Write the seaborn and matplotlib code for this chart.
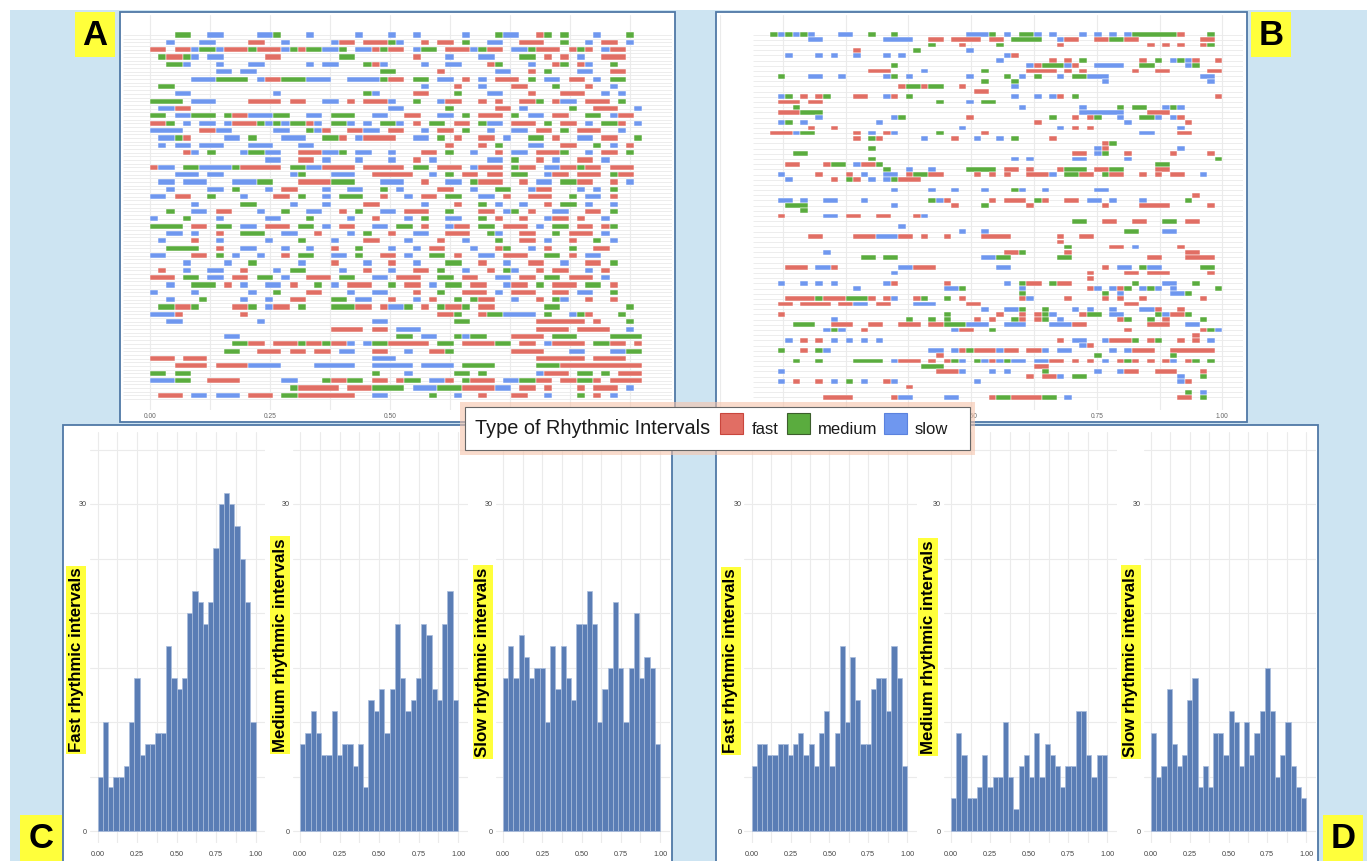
import numpy as np
import pandas as pd
import matplotlib
matplotlib.use("Agg")
import matplotlib.pyplot as plt
import seaborn as sns
from matplotlib.patches import Rectangle

# histogram counts, 30 bins over 0..1
fast_c = [5, 10, 4, 5, 5, 6, 10, 14, 7, 8, 8, 9, 9, 17, 14, 13, 14, 20, 22, 21, 19, 21, 26, 30, 31, 30, 28, 25, 21, 10]
medium_c = [8, 9, 11, 9, 7, 7, 11, 7, 8, 8, 6, 8, 4, 12, 11, 13, 9, 13, 19, 14, 11, 12, 14, 19, 18, 13, 12, 19, 22, 12]
slow_c = [14, 17, 14, 18, 16, 14, 15, 15, 10, 17, 13, 17, 14, 12, 19, 19, 22, 19, 10, 13, 15, 21, 15, 10, 15, 20, 14, 16, 15, 8]
fast_d = [6, 8, 8, 7, 7, 8, 8, 7, 8, 9, 7, 8, 6, 9, 11, 6, 9, 17, 10, 16, 12, 8, 8, 13, 14, 14, 11, 17, 14, 6]
medium_d = [3, 9, 7, 3, 3, 4, 7, 4, 5, 5, 10, 5, 2, 6, 7, 5, 9, 5, 8, 7, 6, 4, 6, 6, 11, 11, 7, 5, 7, 7]
slow_d = [9, 5, 6, 13, 8, 6, 7, 12, 14, 4, 6, 4, 9, 9, 7, 11, 10, 6, 10, 7, 9, 11, 15, 11, 5, 7, 10, 6, 4, 3]

hist_labels = ["Fast rhythmic intervals", "Medium rhythmic intervals", "Slow rhythmic intervals"]

# raster rows, one char per time cell: f = fast, m = medium, s = slow, . = none
raster_a = [
    "...mm..ss. ...ssm...s .....s...s ..s.....s. ..mss..fm. m...s...m.",
    "..s...ss.. ..ff..s... ..sff.fffm s..f.ff.m. .ss..fff.. m..s.ff.s.",
    "ff.ffsmmsf ffmfffsmfm mssm.ssfmf f.smm.fffs mff.ssmfff .fmf.sff..",
    ".mffms.ss. ....ff.... ...mm..... ..f...s... ss...mm.f. f.s..fff..",
    "..mms...s. ..ss.....s .ss...mfs. ...s..ss.. .fm...s..f m.fs..m...",
    "........ss .ss....... ........mm .....f.... ..ss..f.m. ..ss..ff..",
    ".....sssmm mm.sffmmms ss..ssssmf f.mm.ss.f. s.fff.m.ss .ff.s.mm..",
    ".mm....... .......... .......... ...s...f.. s...ff...m ...f..s...",
    "...ss..... .....s.... ......ms.. ..ff...m.. .ss...f... fff..s.s..",
    "mmmm.sss.. ..ffff.ff. .ss.f.fffs ..m..sff.. f.f..ffm.f ss.fff.m..",
    ".ssff..... .......... .........s s.....m... ..ff.s.... .m..fff..s",
    "mm.ssmmm.m ffsssmm..s s.mmm..ss. .ff..ss.m. fff.m.ss.f f..mm.sff.",
    "ffm.s.ss.s fffmsmsmmf s.mms.s.mm s.f.mm.ff. mss.fff.m. ff.s.mmf.s",
    "ssss..ffss .....ss..m sf..ffss.f f..s.ff.m. .s..ss.ff. m.fff..s..",
    ".ssmf....s s.m...sss. .mmf.sffff ..ss.m.f.. ff.s..mm.f ..ss.ff..m",
    ".s.ss.sss. ..sss...ss .......... ......f... f.m...ss.. ff..m.s.f.",
    "....fs.m.. .smmss..ff fssm.ss..s ...ff.m..s ..f.ss.fff m..s.ff.m.",
    ".......... ....ss..ff .s...s...s ..f.s..... .ss.m..f.s ..ff.s....",
    "fss.mmssss mfffff.mms sffff.ffff f.mm.fff.s fff.mff.ss ffmff.fff.",
    "...sss.ss. .......sm. ..sss..fff ff..s.m.ff .ff.mm..sf f.fff.mff.",
    ".ss.sss... sssmm...ff ffmmm...ss s..f..ss.m fff..f.ss. mmff..f.s.",
    "..s....ss.m...s.ff...s..ss..m.s....ff..s..mm..sff...s.s.m...",
    "ss.ff..m...s...ff.m..s.mmm..f..s.ff.mm..ss.f..fff..m.ss.f..",
    ".....s.....mm....s...s....ff.....s...f..m.s..s..f.mm.s..s..",
    "..m..ss.ff...s..m..ss..f.m..ss.fff..m...ff.sm.f..ss..ff.m..",
    "s...m...s.....ss...m....s..f...s.m..ss..m.f..f..sff.f..s...",
    "mmmm.ff.mm.ss.fff.mm.s.ff..ss.mm.f..sff.mm.fff.s.mm.ff.fm..",
    "..ss.s..f..mmm..ss..f...s.m..f..ss..fff..ms..ff..m.fff.s...",
    ".s...f..s.....s...m...s...ff...s...f..s...m..ff.s..f..m.s..",
    "..mmmm..f..ss...s..s..f..m...s..s.ff...s..fm..s.f..m..ff...",
    "ss...ff.m.s..s..f.mm..ss.m..ff.s..mm.f..ss.fff..mm.f.ss....",
    "....s....s..m.....s...f...s..f..s...mm..f..s..ff..s..ff.m..",
    ".f..s..ss..f...s.mm....s..f..s..ff.m..s..f.ms..f.ff..s.f...",
    "fff.mm.ss.ff.mm.s..fff.mm..ss.fff..mm.ff..ss.ff.mm.fff.s....",
    "..s..mmm.f.s..ss.f..m.s.fff..m.ff.s.mm.ff..sff.m.fff.mm.f...",
    "s....s......s..m...ff...s..ss...f..m..fff.s.fff..ff.ss..m...",
    "..s...m....s..s..ff...mm.ss..f..s.f..m.mff..s..f.ms..f..f...",
    ".mmffm.... ffm.sff.m. ..mmmff.fs sm.f.mffm. ff......mm ........m.",
    "sssf...... .f........ .......... .....ffm.. fmmssss.m. .smf...m..",
    "..ss...... ...s...... .......ss. .......mm. .......fff fff.f...m.",
    ".......... .......... ..ffff.ff. sss....... .......fff f.ffff..s.",
    ".........s s......... .......... mm.ss..msm m...ffff.m mm....mmmm",
    ".......... mmff.fffmf fmffs.smmf ffff.mm.ff ffmm.ff.sf fff.mmff.f",
    ".........m m..fff.ff. ff.ss..ff. .s..ffm... ....ffff.. .ss...ssmm",
    "fff.fff... .......... .......sss .......... .......fff fff.ffff..",
    "...ffff.ff ffssss.... sssss..sss ss.ssss.mm mm.....mmm ffffffffff",
    "mm.mm..... .......... .......m.. .s.....mm. m......sff f.mm.m.fff",
    "sssmm..fff f.....ss.. .mffmm.ff. fmm.ssf.mf ff.ssmmff. ffmmf.ffff",
    ".......... .......mff fff.fffmmm m.sssmmmff ffss.ff.f. ..f.fff.s.",
    ".fff.ss.sss.fff.mmfffffff..ss.....m..s..f...ff..s...m.f.s..",
]

raster_b = [
    "msmsms...s s..m..m... ......sssm .s.mms.s.. .s.s.s.smm mmmmf...m.",
    ".....ss... .....ssss. .ff.ffff.f f.mmmm..sf f..ffmmff. .......ff.",
    ".......... .......... .m...f.... m.......f. .......... f.f.f..fm.",
    ".......... .f.......m ......s...",
    "..s...s.s. .s...s.s.. .......... .sf.......",
    ".......... .......... .......... s......f.f .m.......f .m.smsf..f",
    ".......... ......m... .......... ....sfmmms f..ssss..m m....sm...",
    ".......... ...fff.... s.......m. ....ffff.f .f......f. .ff.....ff",
    ".m...ss..s .....sm.s. ......s... .m.s.m..s. mmsss..... .......ss.",
    ".......... .......... ........m. ..m....... ....s..... ........s.",
    ".......... .......fmm fmm..f.... ..s.......",
    ".......... .......... .......ff.",
    ".sm.f.fm.. .ff..sf.m. .......... ..s..s.sf. m......... .........f",
    ".fff.ff... .......... ..m...s.mm",
    "...m...... .......... .......... ...s...... .s....m.mm ..sms.....",
    ".fffmmm... .......... .......... .......... .ssssss... fff.......",
    "......s... ......sm.. ......f... .......m.. f.fm..s..m ms.sf.....",
    ".sm.s..... ....s..... .......... .....f.... .......s.. .....f....",
    ".....f..f. .......... .....s.... ........s. f.f....... ....s.....",
    "fffsmm.... .f.s.fs... ..m.....f. .......... .........s s...ff....",
    ".......... .f.mf..... s...f..s.. s.m....f..",
    ".......... .......... .......... .......... ....fm....",
    ".......... ...m...... .......... .......... ...sf..... ....s.....",
    "...mm..... .......... .......... .......... ff.sm..f.. ...f....f.",
    ".......... ...m...... .......... ..s.s..... ss.....s.. .........m",
    "..ff...fmm .sffm..... .......... .......... .......... .mm.......",
    ".......... .....m..s. .s....mmmm .ff.f...fm mm.ffmm... .ff.......",
    ".s....f... f.s..ss.fm mff....f.f .f..fffs.m mff.mff..f .f.ff..s..",
    "..s.....f. mf.s.smfff",
    "",
    ".......... ......s... .s..s...s. ..ms..s... ...ss..... ..........",
    ".......... .......... .......... .......... .......... ......f...",
    ".ss.s..ss. ..s....... .msf.....f .fff.mf..f f.ss.s...s .....m....",
    "..mmm..... ......s... ....f...m. ....f..... ....f....f fff.....f.",
    "....m.....",
    ".f.....ss. ff..ff...f s.........",
    ".......... .......... .......... .......... mm..ff..ff ..mm.ff...",
    ".......... .......s..",
    ".......... .......... .....s..s. .......... .......mm. ..ss......",
    ".....ff... .fffsssff. f..f....ff ff......f. .ff....... ..........",
    ".......... .......... .......... ........f.",
    ".......... .......... .......... .........m .....ff.s. ....f.....",
    ".......s.. .......... .......... .ffm.....f .......... .....ff...",
    ".......... ..mm.mm... ........ss mm......mm .......... ff...ffff.",
    "",
    "..fff.ssf. .......ssf ff........ ss........ ....f.ss.m ss.....mm.",
    ".......... ......s... .......... .......... ..f....ff. fff.....f.",
    ".......... .......... .......... .......... ..f.......",
    ".s..s.s.s. .....sf... ...f...... .s.mff.mff ........m. ..ss..m...",
    ".......... .s........ ...ssm.... ...s...... ..fs.sfm.s ms.s.....m",
    ".......... .......... .......... ...m...... ....m.s... ...ssm....",
    "..ffffmfff mmmf.fs..f m..m.f.... ...fs....f ....f.f..f .......f..",
    ".ff.ffff.f fss.ff...s ss....ff.. .......... .......ff. ..........",
    ".......... .......... ........s. .ssm..m... s.s..s...s sf..f.....",
    ".f........ .......... ...m...... f..f.fms.. .fmm.ss... .msffm....",
    "........s. ........m. .m.m...f.f ..mf.fm.s. ......fm.. m.f....m..",
    "...mmm..ff f..ff..fff .ffmmmsss. .sss...sss ff........ fff..ss...",
    ".......sms ..f....... ....sff..m .......... .......f.. .......fms",
    ".......... .......... .......... .......... .......... ......f...",
    "..s.f.f.s. s.s.s..... .......... ........f. ss..sfffm. fm..f.f.s.",
    ".......... .......... .......... .......... .sf.......",
    ".m..f.ms.. .......... .ss.sfmfff sff.ffs.ss .....s.sff f..ffffff.",
    ".......... .......... ..f....... .......... ...m...... ...m......",
    "...m..m... .mmmm.sfff .f.fms.msf smss.ssff. f.f.s.fmf. f.fs.fm.m.",
    ".......... .......... mmm....... .....ff...",
    ".s........ .......... ..fffs...s .s....m... ...s..sff. .fff...f..",
    ".......... .......... .......... ....f.ffs. mm........ ....s..m..",
    ".s.f..f.s. m.s..fs... .......s.. .......... .......... ....sf....",
    ".......... ........f.",
    ".......... .......... .......... .......... .......... .....m.s..",
    ".......fff f.....fss. ...ss....f mmffffmm.s .......... ....ff.m..",
]

kind_names = {"f": "fast", "m": "medium", "s": "slow"}
kind_colors = {"fast": "#e16e64", "medium": "#5aac3e", "slow": "#6f97ef"}
NCOL = 60


def raster_frame(rows):
    recs = []
    for r, row in enumerate(rows):
        row = row.replace(" ", "").ljust(NCOL, ".")[:NCOL]
        i = 0
        while i < NCOL:
            ch = row[i]
            if ch == ".":
                i += 1
                continue
            j = i
            while j < NCOL and row[j] == ch:
                j += 1
            recs.append({"row": r, "start": i, "length": j - i, "kind": kind_names[ch]})
            i = j
    return pd.DataFrame(recs)


sns.set_theme(style="whitegrid")
plt.rcParams["font.family"] = ["Liberation Sans", "DejaVu Sans"]

W, H = 1367, 861
fig = plt.figure(figsize=(W / 100, H / 100), dpi=100)
fig.patch.set_facecolor("white")


def rect(x0, y0, x1, y1):
    return [x0 / W, 1 - y1 / H, (x1 - x0) / W, (y1 - y0) / H]


def fig_rect(x0, y0, x1, y1, **kw):
    fig.add_artist(Rectangle((x0 / W, 1 - y1 / H), (x1 - x0) / W, (y1 - y0) / H,
                             transform=fig.transFigure, **kw))


# background and panel frames
fig_rect(10, 10, 1367, 861, fc="#cde4f2", ec="none", zorder=-10)
frame = dict(fc="white", ec="#4f78a6", lw=1.3, zorder=-5)
fig_rect(120, 12, 675, 422, **frame)
fig_rect(716, 12, 1247, 422, **frame)
fig_rect(63, 425, 672, 870, **frame)
fig_rect(716, 425, 1318, 870, **frame)


def raster_panel(pos, rows, x0, cw, xlim, ylim, bar_h, half_lines, shown_ticks):
    ax = fig.add_axes(rect(*pos))
    ax.set_facecolor("none")
    df = raster_frame(rows)
    n = len(rows)
    lines = np.arange(n) if not half_lines else np.arange(0, n, 0.5)
    ax.hlines(lines, xlim[0], xlim[1], color="#e6e6e6", lw=0.5, zorder=0)
    ax.barh(df["row"], df["length"] * cw, left=x0 + df["start"] * cw, height=bar_h,
            color=df["kind"].map(kind_colors), edgecolor="white", linewidth=0.35, zorder=2)
    ax.set_xlim(*xlim)
    ax.set_ylim(*ylim)
    ax.set_xticks(np.arange(0, 1.01, 0.25), minor=False)
    ax.set_xticklabels([f"{t:.2f}" if t in shown_ticks else "" for t in np.arange(0, 1.01, 0.25)])
    ax.set_xticks(np.arange(0.125, 1.0, 0.25), minor=True)
    ax.set_yticks([])
    ax.grid(axis="x", which="both", color="#ebebeb", lw=0.8, zorder=0)
    ax.grid(axis="y", visible=False)
    ax.tick_params(axis="x", which="both", length=0, labelsize=4.8, labelcolor="#666666", pad=2)
    for s in ax.spines.values():
        s.set_visible(False)
    return ax


# panel A: 0 at x=150, 480 px per unit
raster_panel((123, 15, 672, 410), raster_a, 0.0, 0.0171,
             ((123 - 150) / 480, (672 - 150) / 480), (51.0, -2.72), 0.7, True, (0.0, 0.25, 0.5))
# panel B: 0 at x=685, 536 px per unit
raster_panel((720, 15, 1243, 410), raster_b, 0.1, 0.015,
             ((720 - 685) / 536, (1243 - 685) / 536), (72.45, -3.8), 0.92, False, (0.5, 0.75, 1.0))

# histograms
centers = (np.arange(30) + 0.5) / 30
hist_specs = [
    (97.5, 255.5, fast_c, hist_labels[0], 76, 660),
    (300, 458, medium_c, hist_labels[1], 280, 645),
    (503, 660, slow_c, hist_labels[2], 483, 662),
    (751.7, 907, fast_d, hist_labels[0], 731, 661),
    (951, 1107, medium_d, hist_labels[1], 928, 647),
    (1151, 1306, slow_d, hist_labels[2], 1131, 662),
]
for bx0, bx1, counts, lab, lx, ly in hist_specs:
    ax = fig.add_axes(rect(bx0 - 7.5, 432, bx1 + 9.5, 843))
    ax.set_facecolor("white")
    sns.histplot(x=centers, weights=counts, bins=30, binrange=(0, 1), ax=ax,
                 color="#5a7db5", alpha=1, edgecolor="#a9bcdc", linewidth=0.5, zorder=2)
    span = bx1 - bx0
    ax.set_xlim(-7.5 / span, 1 + 9.5 / span)
    ax.set_ylim(-(843 - 831) / 10.9, (831 - 432) / 10.9)
    ax.set_xticks([0, 0.25, 0.5, 0.75, 1.0])
    ax.set_xticklabels(["0.00", "0.25", "0.50", "0.75", "1.00"])
    ax.set_xticks(np.arange(0.125, 1.0, 0.25), minor=True)
    # the 10 and 20 labels sit under the yellow axis title in the reference
    ax.set_yticks([0, 30])
    ax.set_yticks([5, 10, 15, 20, 25, 35], minor=True)
    ax.grid(which="both", color="#ebebeb", lw=0.8, zorder=0)
    ax.set_axisbelow(True)
    ax.set_xlabel("")
    ax.set_ylabel("")
    ax.tick_params(which="both", length=0, labelsize=5.2, labelcolor="#444444")
    ax.tick_params(axis="x", pad=6)
    ax.tick_params(axis="y", pad=2)
    for s in ax.spines.values():
        s.set_visible(False)
    fig.text(lx / W, 1 - ly / H, lab, rotation=90, ha="center", va="center",
             fontsize=12.2, fontweight="bold", color="black", zorder=6,
             bbox=dict(boxstyle="square,pad=0.12", fc="#ffff3b", ec="none"))

# legend box
fig_rect(460, 402, 975, 455, fc="#f6c4ab", ec="none", alpha=0.6, zorder=7)
fig_rect(465, 407, 970, 450, fc="white", ec="#666666", lw=0.8, zorder=8)
fig.text(475 / W, 1 - 429 / H, "Type of Rhythmic Intervals", ha="left", va="center",
         fontsize=14.3, color="#1a1a1a", zorder=9)
legend_keys = [("fast", 720, 752, "#c9463d"), ("medium", 787, 818, "#3c5e2c"), ("slow", 884, 915, "#5b82de")]
for name, kx, tx, ec in legend_keys:
    fig_rect(kx, 413, kx + 23, 434, fc=kind_colors[name], ec=ec, lw=0.8, zorder=9)
    fig.text(tx / W, 1 - 429 / H, name, ha="left", va="center", fontsize=12, color="#1a1a1a", zorder=9)

# panel tags
for letter, x0, y0, x1, y1 in [("A", 75, 12, 115, 57), ("B", 1251, 12, 1291, 57),
                               ("C", 20, 815, 62, 861), ("D", 1323, 815, 1363, 861)]:
    fig_rect(x0, y0, x1, y1, fc="#ffff3b", ec="none", zorder=5)
    fig.text((x0 + x1) / 2 / W, 1 - ((y0 + y1) / 2 + 1) / H, letter, ha="center", va="center",
             fontsize=25, fontweight="bold", color="black", zorder=6)

fig.savefig("out.png", dpi=100)
